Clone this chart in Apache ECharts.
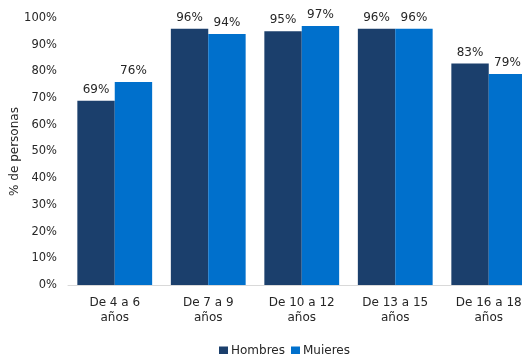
<!DOCTYPE html>
<html>
<head>
<meta charset="utf-8">
<script src="https://cdn.jsdelivr.net/npm/echarts@6/dist/echarts.min.js"></script>
<style>
  html, body { margin: 0; padding: 0; background: #ffffff; }
  #chart { width: 522px; height: 354px; }
</style>
</head>
<body>
<div id="chart"></div>
<script>
// Age groups and share of people (%) by sex
const categories = ['De 4 a 6\naños', 'De 7 a 9\naños', 'De 10 a 12\naños', 'De 13 a 15\naños', 'De 16 a 18\naños'];
const hombres = [69, 96, 95, 96, 83];
const mujeres = [76, 94, 97, 96, 79];
const yTicks = [0, 10, 20, 30, 40, 50, 60, 70, 80, 90, 100];

const FONT = 'DejaVu Sans';
const TEXT = '#262626';

const chart = echarts.init(document.getElementById('chart'), null, { renderer: 'canvas' });

const labelStyle = {
  show: true,
  position: 'top',
  distance: 5,
  color: TEXT,
  fontFamily: FONT,
  fontSize: 12,
  formatter: p => p.value + '%'
};

chart.setOption({
  animation: false,
  textStyle: { fontFamily: FONT },
  // plot area runs slightly past the right edge of the canvas
  grid: { left: 68, top: 18, width: 467.5, bottom: 69, containLabel: false, outerBoundsMode: 'none' },
  legend: {
    left: 214,
    top: 340,
    itemWidth: 9,
    itemHeight: 9,
    itemGap: 6,
    icon: 'rect',
    textStyle: { color: TEXT, fontFamily: FONT, fontSize: 12, padding: [0, 0, 0, -2] },
    data: ['Hombres', 'Mujeres']
  },
  xAxis: {
    type: 'category',
    data: categories,
    axisLine: { lineStyle: { color: '#d9d9d9', width: 1 } },
    axisTick: { show: false },
    axisLabel: { color: TEXT, fontFamily: FONT, fontSize: 12, margin: 10, lineHeight: 15, interval: 0 }
  },
  yAxis: {
    type: 'value',
    min: yTicks[0],
    max: yTicks[yTicks.length - 1],
    interval: 10,
    name: '% de personas',
    nameLocation: 'middle',
    nameGap: 47,
    nameMoveOverlap: false,
    nameRotate: 90,
    nameTextStyle: { color: TEXT, fontFamily: FONT, fontSize: 12 },
    splitLine: { show: false },
    axisLine: { show: false },
    axisTick: { show: false },
    axisLabel: { color: TEXT, fontFamily: FONT, fontSize: 11.5, margin: 11, formatter: v => v + '%' }
  },
  series: [
    {
      name: 'Hombres',
      type: 'bar',
      data: hombres,
      barGap: '0%',
      barCategoryGap: '20%',
      itemStyle: { color: '#1b3f6c' },
      label: labelStyle
    },
    {
      name: 'Mujeres',
      type: 'bar',
      data: mujeres,
      itemStyle: { color: '#0070cc' },
      label: labelStyle
    }
  ]
});
</script>
</body>
</html>
